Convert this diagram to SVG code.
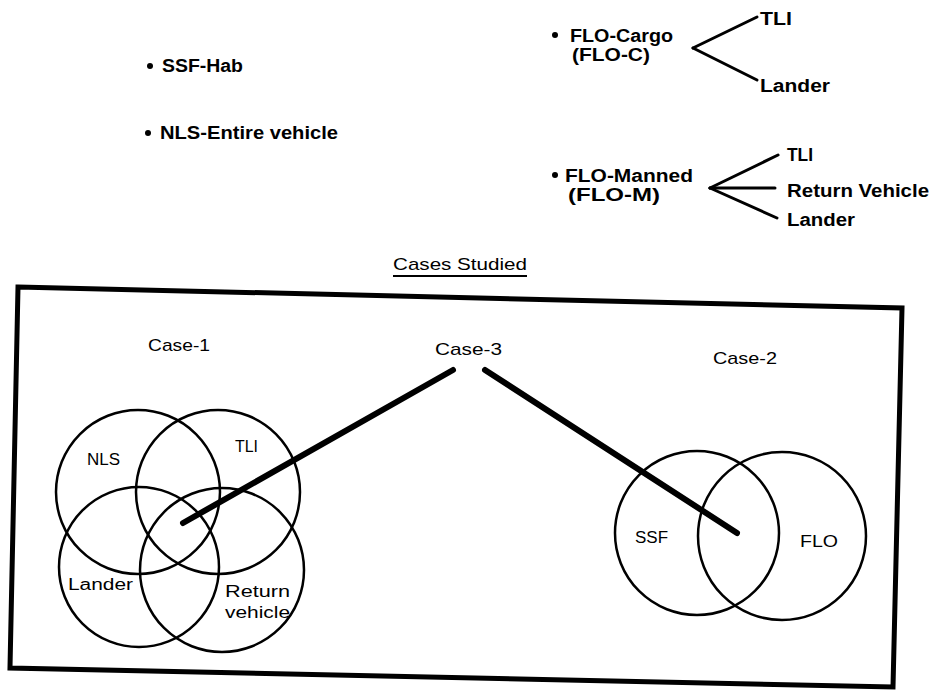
<svg xmlns="http://www.w3.org/2000/svg" width="930" height="691" viewBox="0 0 930 691">
<style>
  .b { font-family: "Liberation Sans", Arial, sans-serif; font-weight: bold; font-size: 18px; fill: #000; }
  .r { font-family: "Liberation Sans", Arial, sans-serif; font-size: 17px; fill: #000; }
  .v { font-family: "Liberation Sans", Arial, sans-serif; font-size: 16px; fill: #000; }
  .circ { fill: none; stroke: #000; stroke-width: 2.5; }
  .thin { stroke: #000; stroke-width: 3; fill: none; stroke-linecap: round; }
  .thick { stroke: #000; stroke-width: 6; fill: none; stroke-linecap: round; }
  .dot { fill: #000; }
</style>
<rect x="0" y="0" width="930" height="691" fill="#fff"/>

<g id="ssf-hab">
  <circle class="dot" cx="150" cy="66" r="3"/>
  <text class="b" x="162" y="72" textLength="81" lengthAdjust="spacingAndGlyphs">SSF-Hab</text>
</g>
<g id="nls-entire">
  <circle class="dot" cx="148" cy="133" r="3"/>
  <text class="b" x="160" y="139" textLength="178" lengthAdjust="spacingAndGlyphs">NLS-Entire vehicle</text>
</g>

<g id="flo-cargo">
  <circle class="dot" cx="555" cy="35" r="3"/>
  <text class="b" x="570" y="42" textLength="103" lengthAdjust="spacingAndGlyphs">FLO-Cargo</text>
  <text class="b" x="572" y="61" textLength="78" lengthAdjust="spacingAndGlyphs">(FLO-C)</text>
</g>
<g id="cargo-tli"><text class="b" x="760" y="25" textLength="32" lengthAdjust="spacingAndGlyphs">TLI</text></g>
<g id="cargo-lander"><text class="b" x="760" y="92" textLength="70" lengthAdjust="spacingAndGlyphs">Lander</text></g>

<g id="flo-manned">
  <circle class="dot" cx="555" cy="175" r="3"/>
  <text class="b" x="565" y="182" textLength="128" lengthAdjust="spacingAndGlyphs">FLO-Manned</text>
  <text class="b" x="568" y="201" textLength="92" lengthAdjust="spacingAndGlyphs">(FLO-M)</text>
</g>
<g id="manned-tli"><text class="b" x="787" y="161" textLength="26" lengthAdjust="spacingAndGlyphs">TLI</text></g>
<g id="manned-return"><text class="b" x="787" y="197" textLength="142" lengthAdjust="spacingAndGlyphs">Return Vehicle</text></g>
<g id="manned-lander"><text class="b" x="787" y="226" textLength="68" lengthAdjust="spacingAndGlyphs">Lander</text></g>

<g id="title">
  <text class="r" x="393" y="270" textLength="134" lengthAdjust="spacingAndGlyphs">Cases Studied</text>
  <line x1="393" y1="276" x2="527" y2="276" stroke="#000" stroke-width="2.2"/>
</g>

<g id="frame">
  <polygon points="18,287 902,308 893,687 10,668" fill="none" stroke="#000" stroke-width="5" stroke-linejoin="miter"/>
</g>

<g id="case-1">
  <text class="r" x="148" y="351" textLength="62" lengthAdjust="spacingAndGlyphs">Case-1</text>
  <circle class="circ" cx="138" cy="492" r="82"/>
  <circle class="circ" cx="218" cy="492" r="82"/>
  <circle class="circ" cx="139" cy="567" r="80"/>
  <circle class="circ" cx="222" cy="570" r="82"/>
  <text class="v" x="87" y="465" textLength="33" lengthAdjust="spacingAndGlyphs">NLS</text>
  <text class="v" x="235" y="452" textLength="23" lengthAdjust="spacingAndGlyphs">TLI</text>
  <text class="v" x="68" y="590" textLength="65" lengthAdjust="spacingAndGlyphs">Lander</text>
  <text class="v" x="225" y="597" textLength="65" lengthAdjust="spacingAndGlyphs">Return</text>
  <text class="v" x="225" y="618" textLength="65" lengthAdjust="spacingAndGlyphs">vehicle</text>
</g>

<g id="case-3">
  <text class="r" x="435" y="355" textLength="67" lengthAdjust="spacingAndGlyphs">Case-3</text>
</g>

<g id="case-2">
  <text class="r" x="713" y="364" textLength="64" lengthAdjust="spacingAndGlyphs">Case-2</text>
  <circle class="circ" cx="697" cy="533" r="82"/>
  <circle class="circ" cx="782" cy="536" r="84"/>
  <text class="v" x="635" y="543" textLength="33" lengthAdjust="spacingAndGlyphs">SSF</text>
  <text class="v" x="800" y="547" textLength="38" lengthAdjust="spacingAndGlyphs">FLO</text>
</g>

<g id="connectors">
  <line class="thin" x1="693" y1="48" x2="757" y2="17"/>
  <line class="thin" x1="693" y1="48" x2="757" y2="80"/>
  <line class="thin" x1="710" y1="188" x2="778" y2="155"/>
  <line class="thin" x1="710" y1="188" x2="775" y2="188"/>
  <line class="thin" x1="710" y1="188" x2="777" y2="218"/>
  <line class="thick" x1="183" y1="523" x2="453" y2="370"/>
  <line class="thick" x1="485" y1="370" x2="737" y2="533"/>
</g>
</svg>
